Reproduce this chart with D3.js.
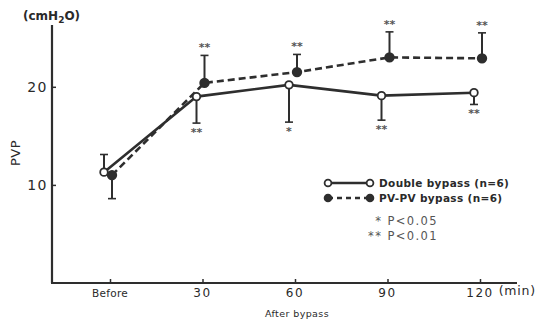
<!DOCTYPE html>
<html><head><meta charset="utf-8">
<script src="https://cdn.jsdelivr.net/npm/d3@7"></script>
<style>body{margin:0;background:#fff}svg{display:block}text{font-family:"DejaVu Sans",sans-serif;fill:#2a2a2a}</style>
</head><body>
<svg id="c" width="537" height="322"></svg>
<script>
const categories = ["Before", "30", "60", "90", "120"];
const doubleMean = [11.3, 19.0, 20.2, 19.1, 19.4];
const doubleErr  = [13.1, 16.3, 16.4, 16.6, 18.2];   // error bar end (upper for Before, lower otherwise)
const doubleSig  = ["", "**", "*", "**", "**"];
const pvMean = [11.0, 20.4, 21.5, 23.0, 22.9];
const pvErr  = [8.6, 23.2, 23.3, 25.6, 25.5];
const pvSig  = ["", "**", "**", "**", "**"];
const yTicks = [10, 20];

const svg = d3.select("#c");
const ink = "#2e2e2e";
const x = d3.scaleLinear().domain([-0.627, 4.4]).range([52, 517]);
const y = d3.scaleLinear().domain([0, 26.3]).range([283, 25]);

// axes
svg.append("line").attr("x1", x(-0.627)).attr("x2", x(-0.627)).attr("y1", y(26.3)).attr("y2", y(0))
  .attr("stroke", ink).attr("stroke-width", 2.2);
svg.append("line").attr("x1", x(-0.627) - 1).attr("x2", x(4.4)).attr("y1", y(0)).attr("y2", y(0))
  .attr("stroke", ink).attr("stroke-width", 2.2);

const yAxis = d3.axisRight(y).tickValues(yTicks).tickSize(4).tickFormat("");
const ya = svg.append("g").attr("transform", `translate(${x(-0.627)},0)`).call(yAxis);
ya.select(".domain").remove();
ya.selectAll("line").attr("stroke", ink).attr("stroke-width", 1.5);
svg.selectAll(".ylab").data(yTicks).join("text").attr("class", "ylab")
  .attr("x", 48).attr("y", d => y(d) + 5).attr("text-anchor", "end")
  .style("font-size", "14px").style("letter-spacing", "1.5px").attr("fill", "#444").text(d => d);

const xAxis = d3.axisTop(x).tickValues(d3.range(categories.length)).tickSize(4).tickFormat("");
const xa = svg.append("g").attr("transform", `translate(0,${y(0)})`).call(xAxis);
xa.select(".domain").remove();
xa.selectAll("line").attr("stroke", ink).attr("stroke-width", 1.5);
svg.selectAll(".xlab").data(categories).join("text").attr("class", "xlab")
  .attr("x", (d, i) => x(i)).attr("y", 297).attr("text-anchor", "middle")
  .style("font-size", (d, i) => i === 0 ? "10.5px" : "12px")
  .style("letter-spacing", (d, i) => i === 0 ? "0.3px" : "1.5px").attr("fill", "#444").text(d => d);
svg.append("text").attr("x", 536).attr("y", 295).attr("text-anchor", "end")
  .style("font-size", "12.5px").style("letter-spacing", "0.8px").attr("fill", "#444").text("(min)");
svg.append("text").attr("x", 297).attr("y", 317).attr("text-anchor", "middle")
  .style("font-size", "9.5px").style("letter-spacing", "0.4px").attr("fill", "#444").text("After bypass");

const unit = svg.append("text").attr("x", 23).attr("y", 20).style("font-size", "12px").style("font-weight", "bold");
unit.append("tspan").text("(cmH");
unit.append("tspan").attr("dy", 3).style("font-size", "9px").text("2");
unit.append("tspan").attr("dy", -3).text("O)");
svg.append("text").attr("transform", "translate(20,153) rotate(-90)").attr("text-anchor", "middle")
  .style("font-size", "13px").style("letter-spacing", "0.5px").attr("fill", "#444").text("PVP");

// series
const offOpen = -6, offFilled = 2;
function series(mean, err, sig, off, filled, dash) {
  const g = svg.append("g");
  const line = d3.line().x((d, i) => x(i) + off).y(d => y(d));
  g.append("path").attr("d", line(mean)).attr("fill", "none").attr("stroke", ink)
    .attr("stroke-width", 2.6).attr("stroke-dasharray", dash);
  mean.forEach((m, i) => {
    const cx = x(i) + off;
    g.append("line").attr("x1", cx).attr("x2", cx).attr("y1", y(m)).attr("y2", y(err[i]))
      .attr("stroke", ink).attr("stroke-width", 2);
    g.append("line").attr("x1", cx - 4).attr("x2", cx + 4).attr("y1", y(err[i])).attr("y2", y(err[i]))
      .attr("stroke", ink).attr("stroke-width", 1.6);
    if (sig[i]) {
      const up = err[i] > m;
      g.append("text").attr("x", cx).attr("y", up ? y(err[i]) - 4 : y(err[i]) + 13)
        .attr("text-anchor", "middle").style("font-size", "11px").style("font-weight", "bold")
        .style("fill", "#555").text(sig[i]);
    }
  });
  g.selectAll("circle").data(mean).join("circle")
    .attr("cx", (d, i) => x(i) + off).attr("cy", d => y(d)).attr("r", filled ? 4.3 : 3.8)
    .attr("fill", filled ? ink : "#fff").attr("stroke", ink).attr("stroke-width", 1.8);
}
series(pvMean, pvErr, pvSig, offFilled, true, "7,4");
series(doubleMean, doubleErr, doubleSig, offOpen, false, null);

// legend
const leg = [
  {label: "Double bypass (n=6)", filled: false, dash: null, yy: 183},
  {label: "PV-PV bypass (n=6)", filled: true, dash: "5,4", yy: 198}
];
leg.forEach(l => {
  svg.append("line").attr("x1", 328).attr("x2", 370).attr("y1", l.yy).attr("y2", l.yy)
    .attr("stroke", ink).attr("stroke-width", 2.4).attr("stroke-dasharray", l.dash);
  [328, 370].forEach(cx => svg.append("circle").attr("cx", cx).attr("cy", l.yy).attr("r", 3.4)
    .attr("fill", l.filled ? ink : "#fff").attr("stroke", ink).attr("stroke-width", 1.8));
  svg.append("text").attr("x", 379).attr("y", l.yy + 4).style("font-size", "10.5px")
    .style("font-weight", "bold").style("letter-spacing", "0.35px").text(l.label);
});
svg.append("text").attr("x", 438).attr("y", 225).attr("text-anchor", "end")
  .style("font-size", "11.5px").style("letter-spacing", "1.4px").style("fill", "#555").text("* P<0.05");
svg.append("text").attr("x", 438).attr("y", 240).attr("text-anchor", "end")
  .style("font-size", "11.5px").style("letter-spacing", "1.4px").style("fill", "#555").text("** P<0.01");
</script>
</body></html>
